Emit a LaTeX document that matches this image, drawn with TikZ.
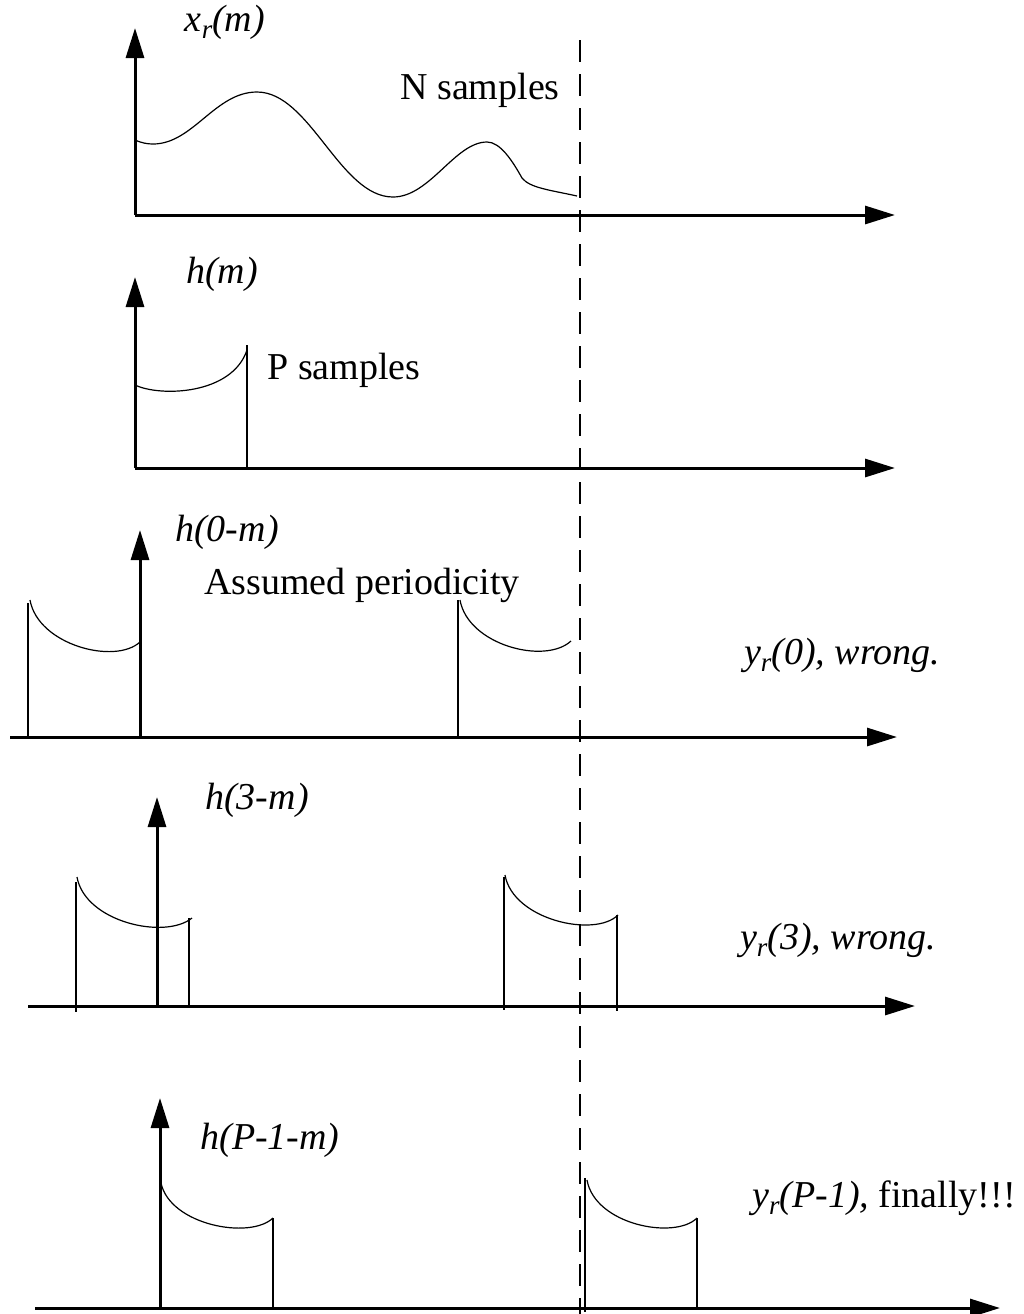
\documentclass[tikz,border=0pt]{standalone}
\usepackage{fontspec}
\setmainfont{Liberation Serif}
\usetikzlibrary{arrows.meta}
\newcommand\subr{\raisebox{-0.4ex}{\fontsize{13.5}{13.5}\selectfont\itshape r}}
\begin{document}
\begin{tikzpicture}[x=0.5pt,y=-0.5pt,
  axis/.style={line width=1.5pt,-{Triangle[length=15pt,width=9pt]}},
  stem/.style={line width=1.2pt},
  sig/.style={line width=0.6pt},
  marker/.style={line width=1pt,dash pattern=on 11pt off 6pt},
  lbl/.style={inner sep=0pt,font=\fontsize{19}{21}\selectfont}]
\useasboundingbox (0,0) rectangle (1024,1314);
% dashed marker
\draw[marker] (580,40) -- (580,1314);
% ---- panel 1
\draw[axis] (135,215) -- (895,215);
\draw[axis] (135,215) -- (135,28);
\draw[sig] (135,140) .. controls (142,143) and (147,144) .. (153,144)
  .. controls (193,144) and (215,92) .. (257,92)
  .. controls (310,92) and (340,197) .. (393,197)
  .. controls (430,197) and (455,142) .. (487,142)
  .. controls (500,142) and (512,160) .. (522,178)
  .. controls (530,188) and (550,190) .. (577,196);
\node[lbl] (x1) at (225,22) {\itshape x\subr(m)};
\node[lbl] (n1) at (480,90) {N samples};
% ---- panel 2
\draw[axis] (135,468) -- (895,468);
\draw[axis] (135,468) -- (135,277);
\draw[sig] (135,385) .. controls (160,397) and (232,395) .. (247,350);
\draw[stem] (247,345) -- (247,468);
\node[lbl] (h2) at (222,274) {\itshape h(m)};
\node[lbl] (p2) at (344,370) {P samples};
% ---- panel 3
\draw[axis] (10,737) -- (897,737);
\draw[axis] (140,737) -- (140,530);
\draw[stem] (28,603) -- (28,737);
\draw[sig] (30,600) .. controls (38,645) and (115,665) .. (140,642);
\draw[stem] (458,600) -- (458,737);
\draw[sig] (460,600) .. controls (468,645) and (545,665) .. (571,641);
\node[lbl] (h3) at (227,532) {\itshape h(0-m)};
\node[lbl] (a3) at (362,585) {Assumed periodicity};
\node[lbl] (y3) at (842,655) {\itshape y\subr(0), wrong.};
% ---- panel 4
\draw[axis] (28,1006) -- (915,1006);
\draw[axis] (157,1006) -- (157,797);
\draw[stem] (76,882) -- (76,1012);
\draw[sig] (77,877) .. controls (85,922) and (165,940) .. (192,918);
\draw[stem] (189,918) -- (189,1006);
\draw[stem] (504,877) -- (504,1010);
\draw[sig] (505,875) .. controls (513,920) and (595,938) .. (618,915);
\draw[stem] (617,915) -- (617,1011);
\node[lbl] (h4) at (257,800) {\itshape h(3-m)};
\node[lbl] (y4) at (838,940) {\itshape y\subr(3), wrong.};
% ---- panel 5
\draw[axis] (35,1308) -- (1000,1308);
\draw[axis] (160,1308) -- (160,1098);
\draw[sig] (161,1183) .. controls (170,1225) and (250,1240) .. (273,1218);
\draw[stem] (273,1218) -- (273,1308);
\draw[stem] (585,1178) -- (585,1312);
\draw[sig] (587,1180) .. controls (595,1225) and (675,1240) .. (697,1218);
\draw[stem] (697,1218) -- (697,1308);
\node[lbl] (h5) at (270,1140) {\itshape h(P-1-m)};
\node[lbl] (y5) at (884,1198) {{\itshape y\subr(P-1),} finally!!!};
\end{tikzpicture}
\end{document}
